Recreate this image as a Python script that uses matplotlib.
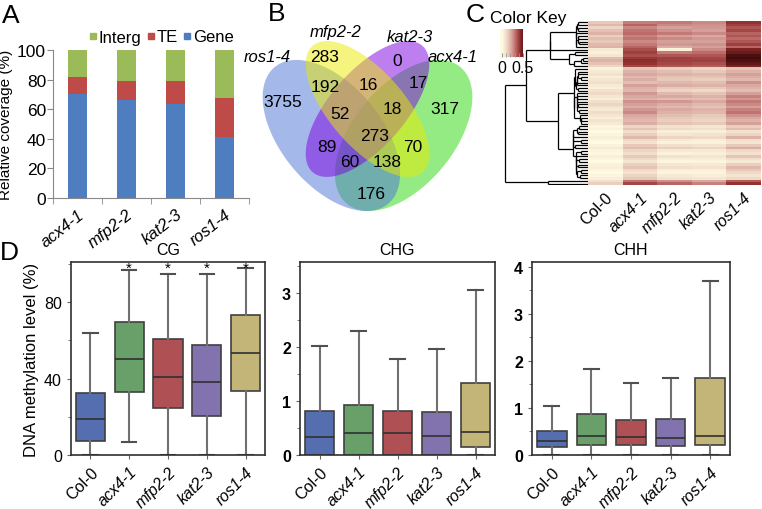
import numpy as np
import matplotlib
matplotlib.use('Agg')
import matplotlib.pyplot as plt
from matplotlib.colors import LinearSegmentedColormap
from matplotlib.lines import Line2D
from matplotlib.transforms import ScaledTranslation

plt.rcParams['font.family'] = ['Liberation Sans', 'DejaVu Sans']

W, H = 762, 510

# ---------------- data ----------------
# A: relative coverage of DMRs (%)
lines_a = ['acx4-1', 'mfp2-2', 'kat2-3', 'ros1-4']
gene_pct = [70.3, 66.3, 63.5, 41.3]
te_pct = [11.7, 13.0, 15.6, 26.5]
interg_pct = [18.0, 20.7, 20.9, 32.2]

# B: venn (ros1-4, mfp2-2, kat2-3, acx4-1)
venn_sets = ['ros1-4', 'mfp2-2', 'kat2-3', 'acx4-1']
venn_counts = [3755, 283, 0, 317, 192, 16, 17, 52, 18, 273, 89, 70, 60, 138, 176]

# C: heatmap, rows in dendrogram order
heat_cols = ['Col-0', 'acx4-1', 'mfp2-2', 'kat2-3', 'ros1-4']
col0_vals = [0.22, 0.28, 0.18, 0.25, 0.30, 0.20, 0.26, 0.22, 0.28, 0.30, 0.08, 0.05, 0.10, 0.26, 0.30, 0.24, 0.18,
             0.04, 0.08, 0.12, 0.06, 0.10, 0.14, 0.08, 0.05, 0.12, 0.16, 0.10, 0.06, 0.14, 0.18, 0.12, 0.08, 0.15, 0.10, 0.06, 0.12, 0.08,
             0.02, 0.04, 0.00, 0.03, 0.06, 0.02, 0.00, 0.04, 0.08, 0.03, 0.01, 0.05, 0.02, 0.00, 0.04, 0.06, 0.02, 0.00, 0.03, 0.05,
             0.14, 0.20]
acx_vals = [0.45, 0.52, 0.42, 0.48, 0.50, 0.44, 0.48, 0.42, 0.46, 0.52, 0.58, 0.62, 0.58, 0.64, 0.68, 0.66, 0.60,
            0.24, 0.30, 0.34, 0.28, 0.32, 0.26, 0.36, 0.30, 0.28, 0.38, 0.34, 0.30, 0.40, 0.36, 0.32, 0.38, 0.42, 0.34, 0.30, 0.28, 0.32,
            0.18, 0.24, 0.14, 0.20, 0.28, 0.16, 0.12, 0.22, 0.26, 0.18, 0.14, 0.22, 0.16, 0.10, 0.20, 0.24, 0.16, 0.12, 0.18, 0.22,
            0.48, 0.60]
mfp_vals = [0.46, 0.42, 0.36, 0.40, 0.46, 0.36, 0.42, 0.36, 0.38, 0.32, 0.04, 0.46, 0.56, 0.62, 0.62, 0.60, 0.56,
            0.20, 0.26, 0.30, 0.24, 0.22, 0.28, 0.32, 0.22, 0.18, 0.28, 0.34, 0.26, 0.38, 0.32, 0.28, 0.34, 0.30, 0.26, 0.22, 0.20, 0.24,
            0.12, 0.16, 0.06, 0.10, 0.18, 0.08, 0.04, 0.14, 0.20, 0.08, 0.04, 0.12, 0.06, 0.02, 0.10, 0.14, 0.06, 0.03, 0.08, 0.12,
            0.40, 0.52]
kat_vals = [0.42, 0.40, 0.38, 0.36, 0.42, 0.34, 0.38, 0.36, 0.40, 0.36, 0.42, 0.50, 0.56, 0.60, 0.62, 0.58, 0.54,
            0.18, 0.22, 0.28, 0.24, 0.20, 0.26, 0.30, 0.22, 0.16, 0.24, 0.30, 0.26, 0.34, 0.28, 0.24, 0.30, 0.28, 0.22, 0.20, 0.18, 0.22,
            0.10, 0.14, 0.06, 0.12, 0.16, 0.06, 0.04, 0.12, 0.18, 0.08, 0.05, 0.10, 0.06, 0.03, 0.08, 0.12, 0.05, 0.03, 0.06, 0.10,
            0.34, 0.44]
ros_vals = [0.66, 0.62, 0.56, 0.60, 0.52, 0.56, 0.50, 0.56, 0.62, 0.52, 0.72, 0.76, 0.82, 0.84, 0.82, 0.78, 0.72,
            0.24, 0.30, 0.36, 0.32, 0.28, 0.40, 0.34, 0.30, 0.26, 0.36, 0.44, 0.38, 0.46, 0.42, 0.36, 0.44, 0.48, 0.40, 0.34, 0.30, 0.36,
            0.20, 0.26, 0.12, 0.18, 0.30, 0.14, 0.10, 0.22, 0.32, 0.16, 0.12, 0.24, 0.14, 0.08, 0.20, 0.28, 0.22, 0.16, 0.10, 0.16,
            0.54, 0.66]
dendro_blocks = [(0, 17), (17, 58), (58, 60)]
dendro_block_h = [0.46, 0.36, 0.48]
dendro_upper_h = [0.75, 1.0]

# D: box plot summaries (whisker low, q1, median, q3, whisker high)
box_lines = ['Col-0', 'acx4-1', 'mfp2-2', 'kat2-3', 'ros1-4']
cg_lo = [0.0, 6.6, 0.0, 0.0, 0.0]
cg_q1 = [7.2, 32.9, 24.5, 20.6, 33.7]
cg_med = [18.9, 50.3, 40.6, 38.1, 53.3]
cg_q3 = [32.3, 69.6, 60.8, 57.7, 73.4]
cg_hi = [63.8, 96.7, 94.8, 94.8, 98.1]
chg_lo = [0.0, 0.0, 0.0, 0.0, 0.0]
chg_q1 = [0.0, 0.0, 0.0, 0.0, 0.14]
chg_med = [0.34, 0.41, 0.41, 0.36, 0.43]
chg_q3 = [0.81, 0.93, 0.82, 0.79, 1.33]
chg_hi = [2.02, 2.29, 1.78, 1.96, 3.06]
chh_lo = [0.0, 0.0, 0.0, 0.0, 0.0]
chh_q1 = [0.16, 0.22, 0.21, 0.19, 0.21]
chh_med = [0.29, 0.41, 0.38, 0.37, 0.41]
chh_q3 = [0.52, 0.88, 0.75, 0.77, 1.63]
chh_hi = [1.04, 1.82, 1.54, 1.63, 3.70]
cg_signif = [False, True, True, True, True]


def box(x0, y0, x1, y1):
    # pixel box (top-left origin) -> figure fraction
    return [x0 / W, 1 - y1 / H, (x1 - x0) / W, (y1 - y0) / H]


def shift_labels(labels, dx_px):
    off = ScaledTranslation(dx_px / 100, 0, fig.dpi_scale_trans)
    for lab in labels:
        lab.set_transform(lab.get_transform() + off)


fig = plt.figure(figsize=(W / 100, H / 100), dpi=100)

letter_kw = dict(fontsize=19, ha='center', va='center')
fig.text(11 / W, 1 - 16 / H, 'A', **letter_kw)
fig.text(277 / W, 1 - 14 / H, 'B', **letter_kw)
fig.text(475 / W, 1 - 15 / H, 'C', **letter_kw)
fig.text(9 / W, 1 - 253 / H, 'D', **letter_kw)

# ---------------- A ----------------
c_gene, c_te, c_int = '#4F7EC0', '#BE4B48', '#9BBB59'
ax = fig.add_axes(box(53, 51, 249, 199))
x = np.arange(len(lines_a))
bw = 0.39
ax.bar(x, gene_pct, bw, color=c_gene)
ax.bar(x, te_pct, bw, bottom=gene_pct, color=c_te)
ax.bar(x, interg_pct, bw, bottom=np.add(gene_pct, te_pct), color=c_int)
ax.set_xlim(-0.5, len(lines_a) - 0.5)
ax.set_ylim(0, 100)
ax.set_yticks(range(0, 101, 20))
ax.set_xticks(x)
ax.set_xticklabels(lines_a, rotation=38, ha='right', va='top', rotation_mode='anchor',
                   style='italic', fontsize=12)
shift_labels(ax.get_xticklabels(), 11)
ax.set_xticks(np.arange(-0.5, len(lines_a), 1), minor=True)
ax.tick_params(axis='x', which='major', length=0, pad=6)
ax.tick_params(axis='x', which='minor', length=4, color='#888888')
ax.tick_params(axis='y', labelsize=12.5, length=4, color='#888888', pad=1)
for s in ['top', 'right']:
    ax.spines[s].set_visible(False)
for s in ['left', 'bottom']:
    ax.spines[s].set_color('#888888')
ax.set_ylabel('Relative coverage (%)', fontsize=11, labelpad=3)
handles = [Line2D([], [], marker='s', ls='', color=c, markersize=4.5) for c in (c_int, c_te, c_gene)]
fig.legend(handles, ['Interg', 'TE', 'Gene'], loc='center left',
           bbox_to_anchor=(89 / W, 1 - 38 / H), ncol=3, frameon=False, fontsize=12,
           handlelength=0.5, handletextpad=0.1, columnspacing=0.3, borderpad=0, borderaxespad=0)

# ---------------- B ----------------
axb = fig.add_axes(box(240, 0, 500, 230))
axb.set_xlim(240, 500)
axb.set_ylim(230, 0)
axb.axis('off')
# ellipses in unit square (cx, cy, a, b, angle), mapped to pixels
venn_shapes = {
    'acx4-1': (0.65, 0.47, 0.35, 0.20, 45, '#2BD80A'),
    'ros1-4': (0.35, 0.47, 0.35, 0.20, 135, '#4B73D7'),
    'kat2-3': (0.50, 0.57, 0.33, 0.15, 45, '#7D00E1'),
    'mfp2-2': (0.50, 0.57, 0.33, 0.15, 135, '#EBEB00'),
}
t = np.linspace(0, 2 * np.pi, 200)
for name, (cx, cy, a, b, ang, col) in venn_shapes.items():
    th = np.deg2rad(ang)
    u = cx + a * np.cos(t) * np.cos(th) - b * np.sin(t) * np.sin(th)
    v = cy + a * np.cos(t) * np.sin(th) + b * np.sin(t) * np.cos(th)
    axb.fill(247 + 241 * u, 212 - (v - 0.185) * 265, color=col, alpha=0.5, lw=0)

venn_label_xy = [(283, 103), (325, 57), (397, 62), (445, 110), (325, 87), (368, 85), (418, 83),
                 (340, 115), (392, 110), (375, 137), (327, 148), (413, 148), (350, 163), (387, 163), (371, 195)]
for n, (px, py) in zip(venn_counts, venn_label_xy):
    axb.text(px, py, str(n), ha='center', va='center', fontsize=12.5)
venn_name_xy = [(267, 58), (336, 33), (410, 37), (453, 58)]
for name, (px, py) in zip(venn_sets, venn_name_xy):
    axb.text(px, py, name, ha='center', va='center', fontsize=12, style='italic')

# ---------------- C ----------------
mat = np.array([col0_vals, acx_vals, mfp_vals, kat_vals, ros_vals]).T
cmap = LinearSegmentedColormap.from_list(
    'key', ['#FFFBE3', '#EED8C6', '#D9A8A0', '#BB6866', '#8E2B2B', '#3E0B0B'])
vmax = 0.85

axh = fig.add_axes(box(588, 22, 761, 186))
axh.imshow(mat, aspect='auto', cmap=cmap, vmin=0, vmax=vmax, interpolation='nearest')
axh.set_xticks(range(len(heat_cols)))
axh.set_xticklabels(heat_cols, rotation=45, ha='right', va='top', rotation_mode='anchor', fontsize=11.5)
for lab in axh.get_xticklabels()[1:]:
    lab.set_style('italic')
shift_labels(axh.get_xticklabels(), 5)
axh.set_yticks([])
axh.tick_params(axis='x', length=0, pad=3)
for s in axh.spines.values():
    s.set_visible(False)

# row dendrogram
segs = []


def join(a, b, h):
    segs.append(([a[2], h], [a[1], a[1]]))
    segs.append(([b[2], h], [b[1], b[1]]))
    segs.append(([h, h], [a[1], b[1]]))
    return (a[0] + b[0], (a[1] + b[1]) / 2, h)


def block_tree(r0, r1, top_h):
    # average linkage between neighbouring clusters inside one block, scaled to top_h
    rows = mat[r0:r1]
    dist = np.sqrt(((rows[:, None, :] - rows[None, :, :]) ** 2).sum(-1))
    nodes = [([i], float(r0 + i), 0.0) for i in range(r1 - r0)]
    merges = []
    while len(nodes) > 1:
        gaps = [dist[np.ix_(nodes[k][0], nodes[k + 1][0])].mean() for k in range(len(nodes) - 1)]
        k = int(np.argmin(gaps))
        a, b = nodes[k], nodes[k + 1]
        h = max(gaps[k], a[2], b[2])
        merges.append((a, b, h))
        nodes[k:k + 2] = [(a[0] + b[0], (a[1] + b[1]) / 2, h)]
    scale = top_h / nodes[0][2]
    for a, b, h in merges:
        join((a[0], a[1], a[2] * scale), (b[0], b[1], b[2] * scale), h * scale)
    return (nodes[0][0], nodes[0][1], top_h)


tops = [block_tree(r0, r1, h) for (r0, r1), h in zip(dendro_blocks, dendro_block_h)]
upper = join(tops[0], tops[1], dendro_upper_h[0])
root = join(upper, tops[2], dendro_upper_h[1])

axd = fig.add_axes(box(504, 22, 588, 186))
for xs, ys in segs:
    axd.plot(xs, ys, color='black', lw=0.9, solid_capstyle='butt')
axd.set_xlim(1.01, 0)
axd.set_ylim(len(mat) - 0.5, -0.5)
axd.axis('off')

# colour key
axk = fig.add_axes(box(500, 30, 523, 58))
axk.imshow(np.linspace(-0.05, 0.5, 100)[None, :], aspect='auto', cmap=cmap, vmin=0, vmax=0.55,
           extent=(-0.05, 0.5, 0, 1))
axk.set_xlim(-0.05, 0.5)
axk.set_xticks([0, 0.5])
axk.set_xticklabels(['0', '0.5'], fontsize=11.5)
axk.set_xticks(np.arange(0, 0.5, 0.1), minor=True)
axk.tick_params(axis='x', which='both', direction='in', length=3, pad=2, color='#999999')
axk.set_yticks([])
for s in axk.spines.values():
    s.set_visible(False)
fig.text(528 / W, 1 - 18 / H, 'Color Key', ha='center', va='center', fontsize=12.5)

# ---------------- D ----------------
box_colors = ['#556EAF', '#69A069', '#AF5055', '#8273AF', '#C3B478']


def draw_boxes(ax, lo, q1, med, q3, hi, ymax, title):
    stats = [dict(whislo=lo[i], q1=q1[i], med=med[i], q3=q3[i], whishi=hi[i], fliers=[])
             for i in range(len(box_lines))]
    bp = ax.bxp(stats, positions=range(len(box_lines)), widths=0.75, patch_artist=True,
                showfliers=False,
                boxprops=dict(edgecolor='#404040', linewidth=1.2),
                medianprops=dict(color='#303030', linewidth=1.2),
                whiskerprops=dict(color='#707070', linewidth=1.5),
                capprops=dict(color='#505050', linewidth=1.5))
    for patch, c in zip(bp['boxes'], box_colors):
        patch.set_facecolor(c)
    ax.set_xlim(-0.5, len(box_lines) - 0.5)
    ax.set_ylim(0, ymax)
    ax.set_xticks(range(len(box_lines)))
    ax.set_xticklabels(box_lines, rotation=45, ha='right', va='top', rotation_mode='anchor', fontsize=11.5)
    for lab in ax.get_xticklabels()[1:]:
        lab.set_style('italic')
    shift_labels(ax.get_xticklabels(), 3)
    ax.tick_params(axis='both', which='both', color='#666666', length=3)
    ax.tick_params(axis='y', which='minor', length=2)
    ax.tick_params(axis='y', labelsize=11.5)
    for s in ax.spines.values():
        s.set_color('#303030')
        s.set_linewidth(1.2)
    ax.set_title(title, fontsize=11.5, pad=6)


ax1 = fig.add_axes(box(71, 263, 265, 456))
draw_boxes(ax1, cg_lo, cg_q1, cg_med, cg_q3, cg_hi, 101, 'CG')
ax1.set_yticks([0, 40, 80])
ax1.set_yticks([20, 60, 100], minor=True)
ax1.set_ylabel('DNA methylation level (%)', fontsize=12, labelpad=4)
for i, sig in enumerate(cg_signif):
    if sig:
        ax1.text(i, 98.0, '*', ha='center', va='center', fontsize=11)

ax2 = fig.add_axes(box(300, 263, 495, 456))
draw_boxes(ax2, chg_lo, chg_q1, chg_med, chg_q3, chg_hi, 3.57, 'CHG')
ax2.set_yticks([0, 1, 2, 3])
ax2.set_yticks([0.5, 1.5, 2.5, 3.5], minor=True)

ax3 = fig.add_axes(box(532, 263, 730, 456))
draw_boxes(ax3, chh_lo, chh_q1, chh_med, chh_q3, chh_hi, 4.1, 'CHH')
ax3.set_yticks([0, 1, 2, 3, 4])
ax3.set_yticks([0.5, 1.5, 2.5, 3.5], minor=True)
for axx in (ax2, ax3):
    for lab in axx.get_yticklabels():
        lab.set_fontweight('bold')

fig.savefig('out.png', dpi=100)
